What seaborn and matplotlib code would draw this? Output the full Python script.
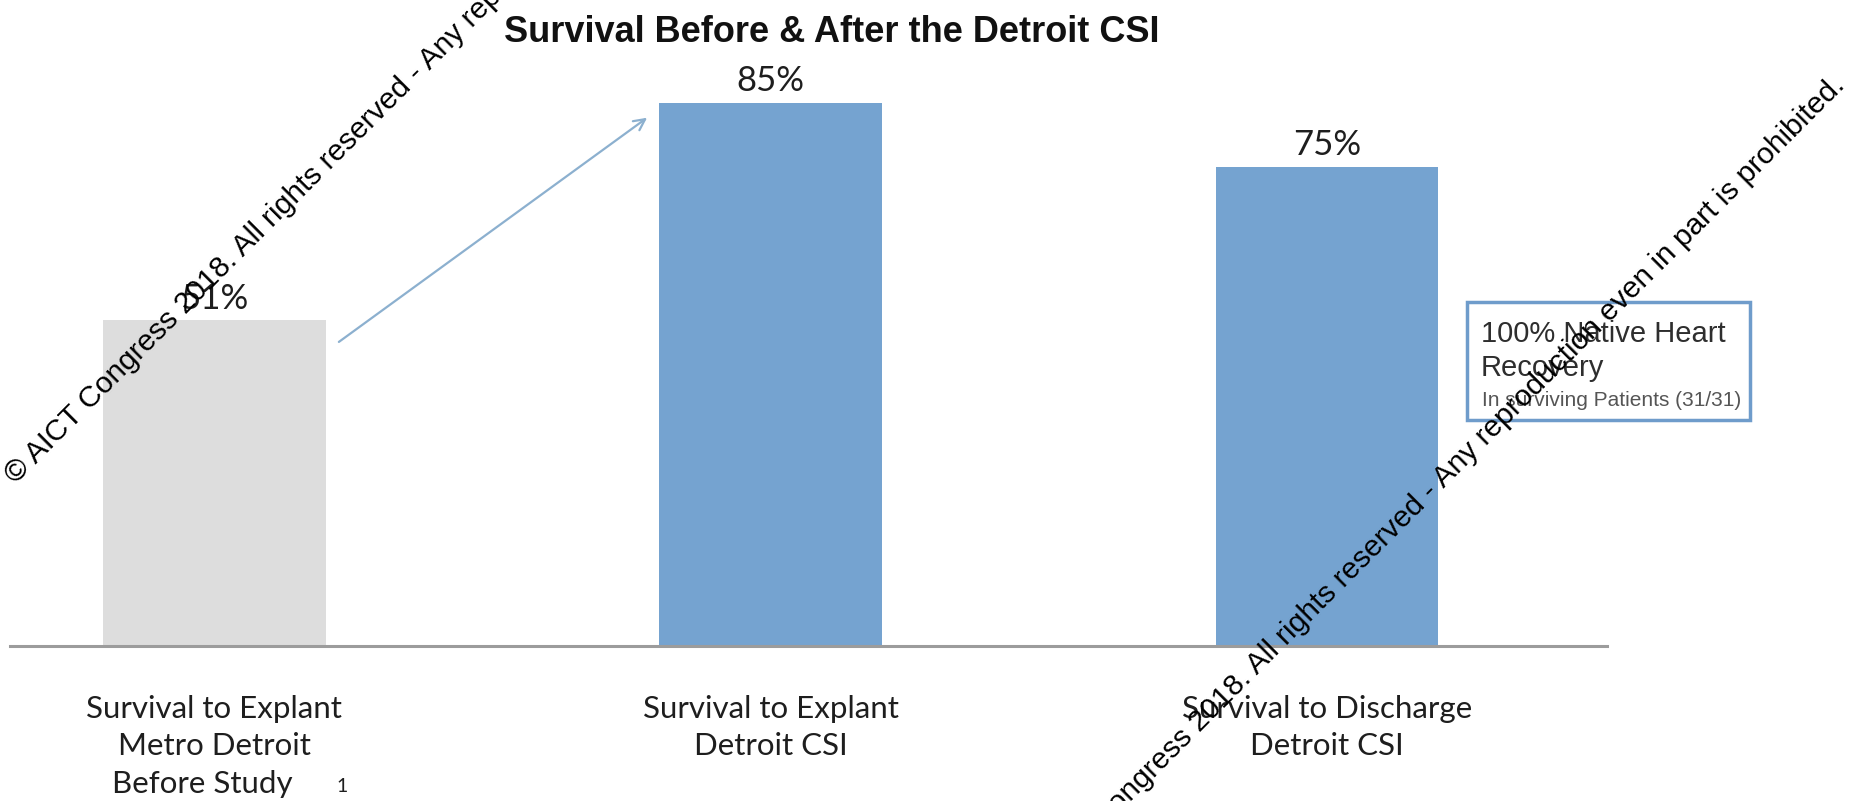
import matplotlib
matplotlib.use("Agg")
import matplotlib.pyplot as plt
from matplotlib.patches import Rectangle
import seaborn as sns
import pandas as pd

# --- data ---
categories = [
    "Survival to Explant\nMetro Detroit\nBefore Study   ",
    "Survival to Explant\nDetroit CSI",
    "Survival to Discharge\nDetroit CSI",
]
survival_pct = [51, 85, 75]
bar_labels = ["51%", "85%", "75%"]
bar_colors = ["#dddddd", "#75a3d0", "#75a3d0"]
title = "Survival Before & After the Detroit CSI"
box_lines = ["100% Native Heart", "Recovery"]
box_note = "In surviving Patients (31/31)"
footnote_mark = "1"
watermark = "\u00a9 AICT Congress 2018. All rights reserved - Any reproduction even in part is prohibited."

df = pd.DataFrame({"category": categories, "pct": survival_pct})

sns.set_theme(style="white")
plt.rcParams["font.family"] = ["Lato", "DejaVu Sans"]
ARIAL = ["Liberation Sans", "DejaVu Sans"]

W, H = 1850, 801
fig = plt.figure(figsize=(W / 100, H / 100), dpi=100)

# axes geometry in pixels
ax_left, ax_right, base_y = 10, 1607, 646
px_per_pct = 6.388
ymax = 100
ax = fig.add_axes([ax_left / W, (H - base_y) / H,
                   (ax_right - ax_left) / W, ymax * px_per_pct / H])

sns.barplot(data=df, x="category", y="pct", hue="category",
            palette=bar_colors, width=0.4, legend=False,
            saturation=1, ax=ax, edgecolor="none")

ax.set_xlim(-0.367, 2.503)
ax.set_ylim(0, ymax)
ax.set_xlabel("")
ax.set_ylabel("")
ax.set_yticks([])
for side in ("top", "right", "left"):
    ax.spines[side].set_visible(False)
ax.spines["bottom"].set_color("#9c9c9c")
ax.spines["bottom"].set_linewidth(2.2)
ax.tick_params(axis="x", length=0, pad=35)
for lbl in ax.get_xticklabels():
    lbl.set_fontsize(22.5)
    lbl.set_color("#1e1e1e")
    lbl.set_linespacing(1.42)

# value labels above bars
for i, (v, t) in enumerate(zip(survival_pct, bar_labels)):
    ax.annotate(t, xy=(i, v), xytext=(0, 4), textcoords="offset points",
                ha="center", va="bottom", fontsize=25, color="#1e1e1e")

# footnote marker next to the first category label
ax.annotate(footnote_mark, xy=(0, 0), xytext=(88, -101), textcoords="offset points",
            ha="left", va="center", fontsize=14, color="#1e1e1e")

# arrow from the historical bar to the CSI bar
ax.annotate("", xy=(1 - 0.222, survival_pct[1] - 2.3),
            xytext=(0 + 0.224, survival_pct[0] - 3.4),
            arrowprops=dict(arrowstyle="->", color="#8cb0cf", lw=1.6,
                            mutation_scale=20, shrinkA=0, shrinkB=0))

# title
fig.text(832 / W, 1 - 32 / H, title, ha="center", va="center",
         fontsize=26, fontweight="bold", family=ARIAL, color="#111111")

# callout box
fig.patches.append(Rectangle((1467 / W, 1 - 420 / H), 283 / W, 118 / H,
                             transform=fig.transFigure, facecolor="white",
                             edgecolor="#6f9ccb", linewidth=2.5))
fig.text(1481 / W, 1 - 334 / H, box_lines[0], ha="left", va="center",
         fontsize=21, family=ARIAL, color="#2e2e2e")
fig.text(1481 / W, 1 - 368 / H, box_lines[1], ha="left", va="center",
         fontsize=21, family=ARIAL, color="#2e2e2e")
fig.text(1482 / W, 1 - 400 / H, box_note, ha="left", va="center",
         fontsize=15, family=ARIAL, color="#555555")

# diagonal copyright notices
fig.text(16 / W, 1 - 485 / H, watermark, ha="left", va="baseline",
         rotation=45, rotation_mode="anchor", fontsize=21.5,
         family=ARIAL, color="black")
fig.text(1846 / W, 1 - 86 / H, watermark, ha="right", va="baseline",
         rotation=45, rotation_mode="anchor", fontsize=21.5,
         family=ARIAL, color="black")

fig.savefig("out.png", dpi=100, facecolor="white")
